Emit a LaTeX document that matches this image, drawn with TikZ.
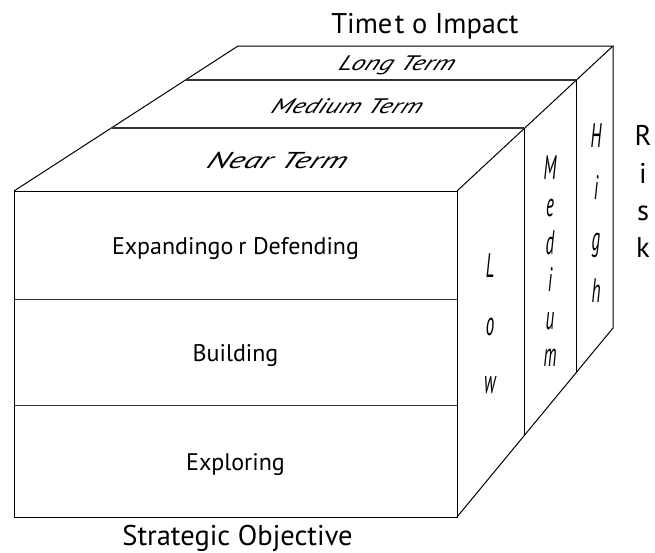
\documentclass[tikz,border=0pt]{standalone}
\usepackage{fontspec}
\setmainfont{PT Sans}
\begin{document}
\begin{tikzpicture}[x=1pt,y=-1pt,
  edge/.style={line width=1pt, line join=miter},
  divider/.style={line width=1.2pt, black!80},
  lbl/.style={inner sep=0pt, anchor=base, font=\fontsize{24}{24}\selectfont},
  biglbl/.style={inner sep=0pt, anchor=base, font=\fontsize{28.5}{28.5}\selectfont},
  toplbl/.style={inner sep=0pt, anchor=base, font=\fontsize{21}{21}\selectfont\itshape, xslant=0.4, xscale=1.3},
  vlet/.style={inner sep=0pt, anchor=base, font=\fontsize{34}{34}\selectfont\itshape, xscale=0.5},
]
\useasboundingbox (0,0) rectangle (655,552);
% corners
\coordinate (FTL) at (14,191);
\coordinate (FTR) at (457,191);
\coordinate (FBL) at (14,517);
\coordinate (FBR) at (457,517);
\coordinate (BTL) at (238,46);
\coordinate (BTR) at (613,46);
\coordinate (BBR) at (613,328);
% front dividers
\coordinate (D1L) at (14,299.5);  \coordinate (D1R) at (457,299.5);
\coordinate (D2L) at (14,405.5);  \coordinate (D2R) at (457,405.5);
% top dividers
\coordinate (T1L) at (111.5,128); \coordinate (T1R) at (524,128);
\coordinate (T2L) at (185.5,80);  \coordinate (T2R) at (576.5,80);
% right verticals
\coordinate (R1B) at (524,435.8);
\coordinate (R2B) at (576.5,372.2);
% faces
\draw[edge] (FTL) rectangle (FBR);
\draw[edge] (FTL) -- (BTL) -- (BTR) -- (FTR);
\draw[edge] (BTR) -- (BBR) -- (FBR);
\draw[divider] (D1L) -- (D1R);
\draw[divider] (D2L) -- (D2R);
\draw[divider] (T1L) -- (T1R);
\draw[divider] (T2L) -- (T2R);
\draw[edge] (T1R) -- (R1B);
\draw[edge] (T2R) -- (R2B);
% labels
\node[biglbl] (time) at (425,33) {Time\kern2.5pt t o Impact};
\node[lbl] (exp) at (235.5,254) {Expandingo\kern5pt r Defending};
\node[lbl] (bld) at (235.5,361) {Building};
\node[lbl] (expl) at (235.5,470) {Exploring};
\node[biglbl] (so) at (237.5,545) {Strategic Objective};
\node[biglbl] (r1) at (643,145) {R};
\node[biglbl] (r2) at (643,183) {i};
\node[biglbl] (r3) at (643,220) {s};
\node[biglbl] (r4) at (643,257) {k};
\node[toplbl] (lt) at (395,70) {Long Term};
\node[toplbl] (mt) at (345,113) {Medium Term};
\node[toplbl, font=\fontsize{23}{23}\selectfont\itshape, xscale=1.12] (nt) at (275,168) {Near Term};
% Low
\node[vlet] (l1) at (490,277) {L};
\node[vlet] (l2) at (490,335) {o};
\node[vlet] (l3) at (490,393) {w};
% Medium
\node[vlet] (m1) at (550,179) {M};
\node[vlet] (m2) at (550,216) {e};
\node[vlet] (m3) at (550,254) {d};
\node[vlet] (m4) at (550,291) {i};
\node[vlet] (m5) at (550,329) {u};
\node[vlet] (m6) at (550,366) {m};
% High
\node[vlet] (h1) at (596,147) {H};
\node[vlet] (h2) at (596,199) {i};
\node[vlet] (h3) at (596,250) {g};
\node[vlet] (h4) at (596,302) {h};
\end{tikzpicture}
\end{document}
